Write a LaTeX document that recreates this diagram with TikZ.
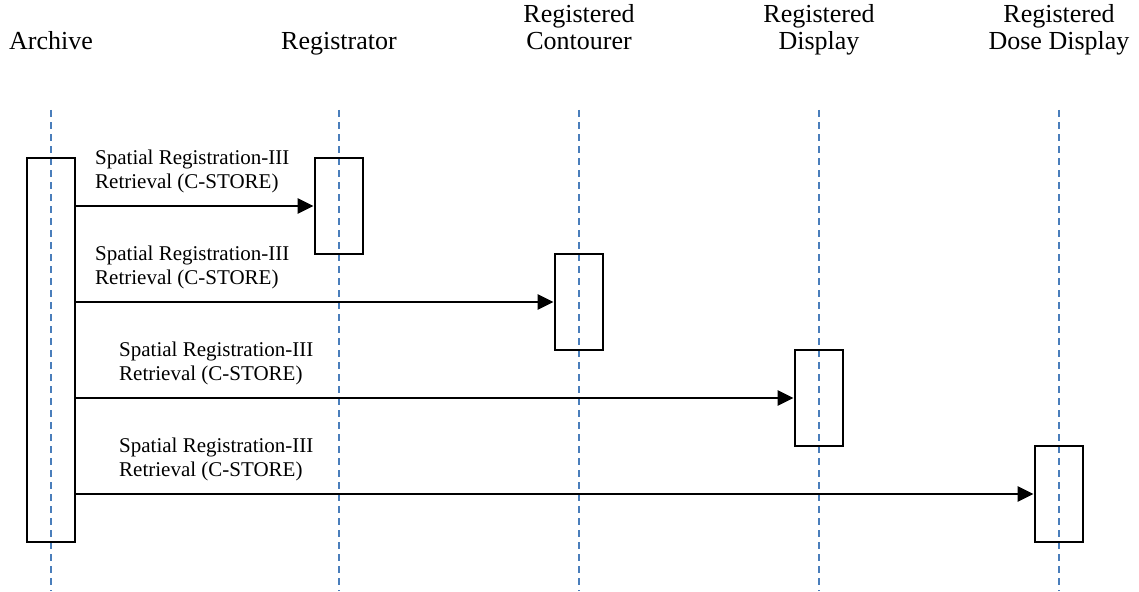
\documentclass[tikz,border=0pt]{standalone}
\usepackage{fontspec}
\setmainfont{Liberation Serif}
\usetikzlibrary{arrows.meta}
\definecolor{lifeblue}{RGB}{74,126,187}
\tikzset{
	lifeline/.style={draw=lifeblue,line width=1.6pt,dash pattern=on 7pt off 5pt},
	actbox/.style={draw=black,line width=2.8pt,minimum width=48pt,inner sep=0pt},
	msg/.style={line width=2.6pt,-{Triangle[length=16pt,width=15pt]}},
	head/.style={font=\fontsize{26}{27}\selectfont,align=center,anchor=base,inner sep=0pt},
	msglabel/.style={font=\fontsize{21}{24}\selectfont,align=left,anchor=base west,inner sep=0pt}
}
\begin{document}
\begin{tikzpicture}[x=1pt,y=-1pt]
		\useasboundingbox (0,0) rectangle (1139,591);
		% lifelines
		\foreach \x in {51,339,579,819,1059}
			\draw[lifeline] (\x,110) -- (\x,591);
		% headers
		\node[head] (harch) at (51,50) {Archive};
		\node[head] (hreg) at (339,50) {Registrator};
		\node[head] (hcon) at (579,50) {Registered\\Contourer};
		\node[head] (hdisp) at (819,50) {Registered\\Display};
		\node[head] (hdose) at (1059,50) {Registered\\Dose Display};
		% activation boxes
		\node[actbox,minimum height=384pt] (arch) at (51,350) {};
		\node[actbox,minimum height=96pt] (reg) at (339,206) {};
		\node[actbox,minimum height=96pt] (con) at (579,302) {};
		\node[actbox,minimum height=96pt] (disp) at (819,398) {};
		\node[actbox,minimum height=96pt] (dose) at (1059,494) {};
		% messages
		\draw[msg] (reg.west -| arch.east) -- (reg.west);
		\draw[msg] (con.west -| arch.east) -- (con.west);
		\draw[msg] (disp.west -| arch.east) -- (disp.west);
		\draw[msg] (dose.west -| arch.east) -- (dose.west);
		\node[msglabel] (lreg) at (95,188) {Spatial Registration-III\\Retrieval (C-STORE)};
		\node[msglabel] (lcon) at (95,284) {Spatial Registration-III\\Retrieval (C-STORE)};
		\node[msglabel] (ldisp) at (119,380) {Spatial Registration-III\\Retrieval (C-STORE)};
		\node[msglabel] (ldose) at (119,476) {Spatial Registration-III\\Retrieval (C-STORE)};
\end{tikzpicture}
\end{document}
